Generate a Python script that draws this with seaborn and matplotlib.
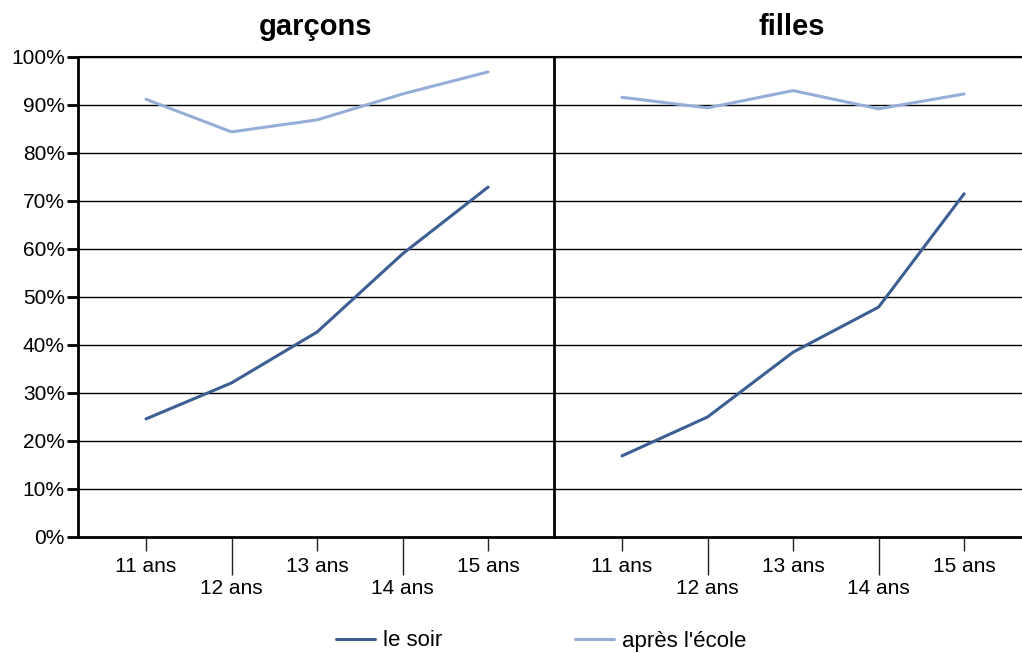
import numpy as np
import pandas as pd
import matplotlib
matplotlib.use("Agg")
import matplotlib.pyplot as plt
import seaborn as sns
from matplotlib.lines import Line2D

# --- data ---
ages = ["11 ans", "12 ans", "13 ans", "14 ans", "15 ans"]
series = ["le soir", "après l'école"]
garcons_soir = [24.6, 32.1, 42.7, 59.0, 72.9]
garcons_apres = [91.2, 84.4, 86.9, 92.3, 96.9]
filles_soir = [16.9, 25.0, 38.5, 47.9, 71.5]
filles_apres = [91.6, 89.4, 93.0, 89.2, 92.3]
panels = ["garçons", "filles"]
yticks = list(range(0, 101, 10))

colors = {"le soir": "#3B5F93", "après l'école": "#95AED8"}

sns.set_style("white")
plt.rcParams['font.family'] = ['Liberation Sans', 'DejaVu Sans']
plt.rcParams['text.color'] = 'black'
plt.rcParams['xtick.color'] = 'black'
plt.rcParams['ytick.color'] = 'black'
plt.rcParams['axes.titlecolor'] = 'black'


def long_df(soir, apres):
    return pd.DataFrame({
        "x": list(range(len(ages))) * 2,
        "val": soir + apres,
        "serie": [series[0]] * len(ages) + [series[1]] * len(ages),
    })


data = {"garçons": long_df(garcons_soir, garcons_apres),
        "filles": long_df(filles_soir, filles_apres)}

fig = plt.figure(figsize=(10.22, 6.53), dpi=100)
W, H = 1022, 653
axes = [fig.add_axes([78 / W, 1 - 537 / H, 476 / W, 480 / H]),
        fig.add_axes([554 / W, 1 - 537 / H, 476 / W, 480 / H])]

for i, (ax, name) in enumerate(zip(axes, panels)):
    sns.lineplot(data=data[name], x="x", y="val", hue="serie", palette=colors,
                 hue_order=series, linewidth=2.2, ax=ax, legend=False, zorder=3)
    ax.set_xlim(-0.795, 4.77)
    ax.set_ylim(0, 100)
    ax.set_xlabel("")
    ax.set_ylabel("")
    ax.set_title(name, fontsize=21, fontweight="bold", pad=16)
    for y in yticks[1:]:
        ax.axhline(y, color="black", lw=1, zorder=1)

    # staggered category labels: even ones short tick, odd ones long tick
    ax.set_xticks([0, 2, 4])
    ax.set_xticklabels([ages[0], ages[2], ages[4]])
    ax.set_xticks([1, 3], minor=True)
    ax.set_xticklabels([ages[1], ages[3]], minor=True)
    ax.tick_params(axis="x", which="major", length=10, width=1, color="#222222",
                   pad=4.7, labelsize=15, bottom=True)
    ax.tick_params(axis="x", which="minor", length=27, width=1, color="#222222",
                   pad=3.6, labelsize=15, bottom=True)

    for s in ["top", "right", "left", "bottom"]:
        ax.spines[s].set_color("black")
    ax.spines["right"].set_visible(False)
    ax.spines["left"].set_linewidth(2)
    ax.spines["bottom"].set_linewidth(2)
    ax.spines["top"].set_linewidth(1.5)

    if i == 0:
        ax.set_yticks(yticks)
        ax.set_yticklabels([f"{v}%" for v in yticks])
        ax.tick_params(axis="y", length=8, width=2, color="black", labelsize=15,
                       left=True, pad=1.5)
    else:
        ax.set_yticks([])

handles = [Line2D([], [], color=colors[s], lw=2.2) for s in series]
fig.legend(handles, series, loc="center", bbox_to_anchor=(541 / W, 1 - 641 / H),
           ncol=2, frameon=False, fontsize=16, handlelength=1.75,
           handletextpad=0.35, columnspacing=6.0)

fig.savefig("out.png", dpi=100)
